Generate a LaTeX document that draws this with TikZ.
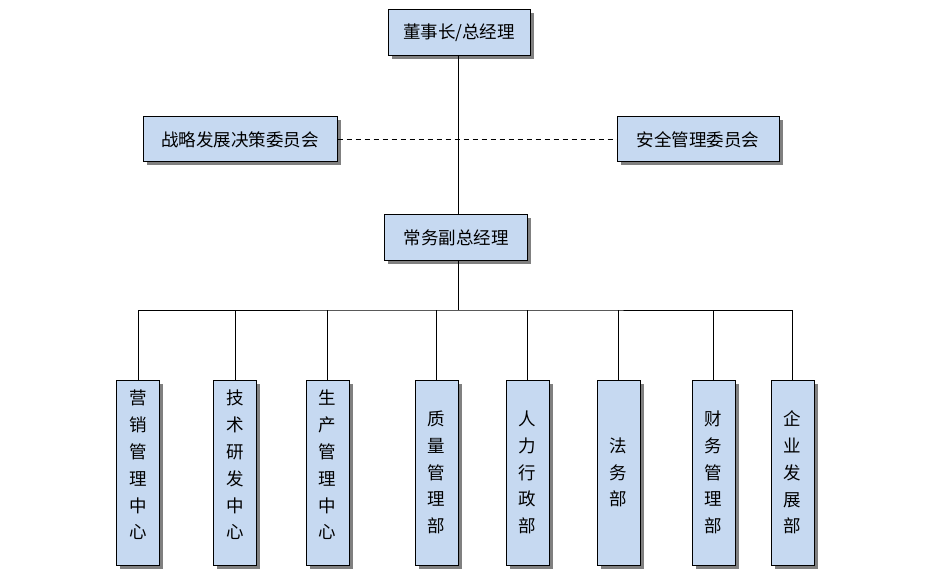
\documentclass[tikz,border=0pt]{standalone}
\usepackage{fontspec}
\setmainfont{Noto Sans CJK SC}
\usepackage{tikz}
\usetikzlibrary{shadows}
\definecolor{orgfill}{HTML}{C6D9F1}
\definecolor{orgshadow}{HTML}{808080}
\tikzset{
  orgbox/.style={draw=black, line width=1pt, fill=orgfill, align=center,
                 font=\fontsize{17.5}{26.8}\selectfont, inner sep=0pt,
                 drop shadow={shadow xshift=3.5pt, shadow yshift=-3.5pt,
                              fill=orgshadow, opacity=1}},
  headbox/.style={orgbox, minimum height=46pt},
  deptbox/.style={orgbox, minimum width=43pt, minimum height=185pt},
  longdept/.style={deptbox, text depth=16pt},
  link/.style={draw=black, line width=1pt},
}

\begin{document}
\begin{tikzpicture}[x=1pt, y=-1pt]
  \useasboundingbox (0,0) rectangle (925,580);

  % Top level
  \node[headbox, minimum width=142pt] (chair) at (459,33) {董事长/总经理};
  \node[headbox, minimum width=194pt, minimum height=45pt] (strat) at (240,139.5)
    {战略发展决策委员会};
  \node[headbox, minimum width=162pt, minimum height=45pt] (safety) at (698,139.5)
    {安全管理委员会};
  \node[headbox, minimum width=143pt] (vice) at (456,237.5) {常务副总经理};

  % Departments
  \node[longdept] (d1) at (138,472.5) {营\\销\\管\\理\\中\\心};
  \node[longdept] (d2) at (235,472.5) {技\\术\\研\\发\\中\\心};
  \node[longdept] (d3) at (327.5,472.5) {生\\产\\管\\理\\中\\心};
  \node[deptbox] (d4) at (436.5,472.5) {质\\量\\管\\理\\部};
  \node[deptbox] (d5) at (527.5,472.5) {人\\力\\行\\政\\部};
  \node[deptbox] (d6) at (618.5,472.5) {法\\务\\部};
  \node[deptbox] (d7) at (713.5,472.5) {财\\务\\管\\理\\部};
  \node[deptbox] (d8) at (792.5,472.5) {企\\业\\发\\展\\部};

  % Connectors
  \coordinate (bus) at (458,310);
  \draw[link, dash pattern=on 5pt off 4pt] (strat) -- (safety);
  \draw[link] (chair.south -| bus) -- (vice.north -| bus);
  \draw[link] (vice.south -| bus) -- (bus);
  \draw[link] (d1.north) |- (bus) -| (d8.north);
  \foreach \n in {2,...,7}
    \draw[link] (d\n.north) -- (d\n.north |- bus);
\end{tikzpicture}
\end{document}
